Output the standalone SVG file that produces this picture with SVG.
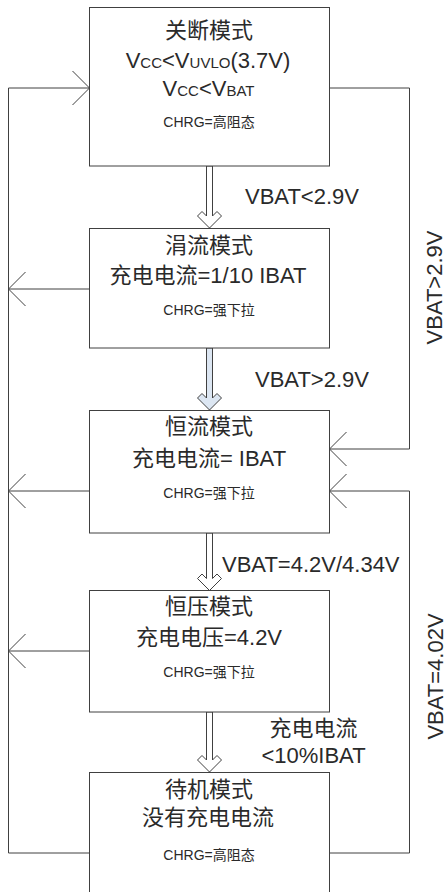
<svg xmlns="http://www.w3.org/2000/svg" width="448" height="892" viewBox="0 0 448 892">
<style>
.box{fill:#fff;stroke:#404040;stroke-width:1}
.ln{fill:none;stroke:#404040;stroke-width:1}
.t{font-family:"Liberation Sans","Noto Sans CJK SC",sans-serif;fill:#2a2a2a;text-anchor:middle}
.big{font-size:22px}
.sm{font-size:14px}
.lab{font-family:"Liberation Sans","Noto Sans CJK SC",sans-serif;fill:#2a2a2a;font-size:22px}
.blk{stroke:#404040;stroke-width:1;stroke-linejoin:miter}
</style>
<defs>
<marker id="chev" viewBox="-19 -19 21 38" refX="0" refY="0" markerWidth="21" markerHeight="38" markerUnits="userSpaceOnUse" orient="auto">
<path d="M-17,-17 L0,0 L-17,17" fill="none" stroke="#404040" stroke-width="1"/>
</marker>
</defs>
<rect width="448" height="892" fill="#fff"/>
<g id="connectors">
<path class="ln" d="M89.5,853 H8.5 V88 H89.5" marker-end="url(#chev)"/>
<path class="ln" d="M89.5,289 H8.5" marker-end="url(#chev)"/>
<path class="ln" d="M89.5,491 H8.5" marker-end="url(#chev)"/>
<path class="ln" d="M89.5,651 H8.5" marker-end="url(#chev)"/>
<path class="ln" d="M329.5,88 H409.5 V449 H329.5" marker-end="url(#chev)"/>
<path class="ln" d="M329.5,853 H409.5 V491 H329.5" marker-end="url(#chev)"/>
<polygon class="blk" fill="#fff" points="206.5,166 206.5,216 202,211.5 197.5,216 209.5,228 221.5,216 217,211.5 212.5,216 212.5,166"/>
<polygon class="blk" fill="#dce6f2" points="206.5,348 206.5,398 202,393.5 197.5,398 209.5,410 221.5,398 217,393.5 212.5,398 212.5,348"/>
<polygon class="blk" fill="#fff" points="206.5,533 206.5,578.5 202,574 197.5,578.5 209.5,590.5 221.5,578.5 217,574 212.5,578.5 212.5,533"/>
<polygon class="blk" fill="#fff" points="206.5,712 206.5,760 202,755.5 197.5,760 209.5,772 221.5,760 217,755.5 212.5,760 212.5,712"/>
<text class="lab" x="245" y="204">VBAT&lt;2.9V</text>
<text class="lab" x="255" y="387">VBAT&gt;2.9V</text>
<text class="lab" x="222" y="572">VBAT=4.2V/4.34V</text>
<text class="t big" x="313.5" y="736">充电电流</text>
<text class="t big" x="313.5" y="763">&lt;10%IBAT</text>
<text class="lab" text-anchor="middle" transform="translate(442,287.5) rotate(-90)">VBAT&gt;2.9V</text>
<text class="lab" text-anchor="middle" transform="translate(443,676.5) rotate(-90)">VBAT=4.02V</text>
</g>
<g id="shutdown">
<rect class="box" x="89.5" y="7.5" width="240" height="158.5"/>
<text class="t big" x="209" y="38">关断模式</text>
<text class="t big" x="208" y="68">V<tspan font-size="15px">CC</tspan>&lt;V<tspan font-size="15px">UVLO</tspan>(3.7V)</text>
<text class="t big" x="208.5" y="96">V<tspan font-size="15px">CC</tspan>&lt;V<tspan font-size="15px">BAT</tspan></text>
<text class="t sm" x="209" y="127">CHRG=高阻态</text>
</g>
<g id="trickle">
<rect class="box" x="89.5" y="228.5" width="240" height="119.5"/>
<text class="t big" x="209" y="253">涓流模式</text>
<text class="t big" x="208" y="283">充电电流=1/10 IBAT</text>
<text class="t sm" x="209" y="315">CHRG=强下拉</text>
</g>
<g id="cc">
<rect class="box" x="89.5" y="410.5" width="240" height="122.5"/>
<text class="t big" x="209" y="434">恒流模式</text>
<text class="t big" x="209" y="466">充电电流= IBAT</text>
<text class="t sm" x="209" y="498">CHRG=强下拉</text>
</g>
<g id="cv">
<rect class="box" x="89.5" y="590.5" width="240" height="121.5"/>
<text class="t big" x="209" y="614">恒压模式</text>
<text class="t big" x="209" y="645">充电电压=4.2V</text>
<text class="t sm" x="209" y="677">CHRG=强下拉</text>
</g>
<g id="standby">
<rect class="box" x="89.5" y="772.5" width="240" height="130"/>
<text class="t big" x="209" y="797">待机模式</text>
<text class="t big" x="208" y="825">没有充电电流</text>
<text class="t sm" x="209" y="860">CHRG=高阻态</text>
</g>
</svg>
